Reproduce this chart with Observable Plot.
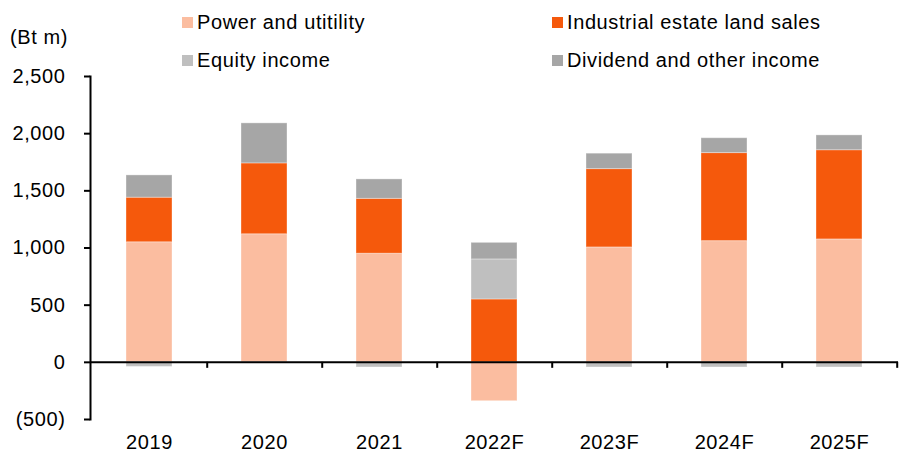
<!DOCTYPE html>
<html>
<head>
<meta charset="utf-8">
<script src="https://cdn.jsdelivr.net/npm/d3@7"></script>
<script src="https://cdn.jsdelivr.net/npm/@observablehq/plot@0.6"></script>
<style>
  html, body { margin: 0; padding: 0; background: #fff; }
  body { font-family: "Liberation Sans", Arial, sans-serif; color: #000; }
  #wrap { position: relative; width: 904px; height: 452px; }
  #unit { position: absolute; left: 10px; top: 27px; font-size: 20px; line-height: 20px; letter-spacing: 0.6px; }
  #legend { position: absolute; left: 182px; top: 12px; display: grid; letter-spacing: 0.6px;
            grid-template-columns: 370px auto; row-gap: 18px; font-size: 20px; line-height: 20px; }
  .item { display: flex; align-items: center; gap: 4px; white-space: nowrap; }
  .sw { width: 11px; height: 11px; display: inline-block; }
  #chart { position: absolute; left: 0; top: 0; }
</style>
</head>
<body>
<div id="wrap">
  <div id="chart"></div>
  <div id="unit">(Bt m)</div>
  <div id="legend"></div>
</div>
<script>
const years = ["2019", "2020", "2021", "2022F", "2023F", "2024F", "2025F"];
const seriesNames = ["Power and utitility", "Industrial estate land sales", "Equity income", "Dividend and other income"];
const seriesColors = ["#FBBDA0", "#F5590C", "#BFBFBF", "#A6A6A6"];
const power      = [1050, 1120, 950, -340, 1005, 1060, 1075];
const industrial = [390, 620, 480, 550, 685, 770, 780];
const equity     = [-40, -10, -45, 350, -45, -45, -45];
const dividend   = [195, 350, 170, 145, 135, 130, 130];
const yTicks = [-500, 0, 500, 1000, 1500, 2000, 2500];

const seriesValues = [power, industrial, equity, dividend];
const data = [];
seriesNames.forEach((s, si) => {
  years.forEach((y, yi) => data.push({year: y, series: s, value: seriesValues[si][yi]}));
});

const fmt = d3.format(",");
const tickFmt = d => d < 0 ? `(${fmt(-d)})` : fmt(d);

const W = 904, ML = 90, MR = 6;
const step = (W - ML - MR) / years.length;

const chart = Plot.plot({
  width: W,
  height: 452,
  marginLeft: ML,
  marginRight: MR,
  marginTop: 76,
  marginBottom: 33,
  style: {fontFamily: "'Liberation Sans', Arial, sans-serif", fontSize: "20px", color: "#000", background: "transparent", letterSpacing: "0.6px"},
  x: {domain: years, paddingInner: 0.6, paddingOuter: 0.3, label: null},
  y: {domain: [-500, 2500], label: null},
  color: {domain: seriesNames, range: seriesColors},
  marks: [
    Plot.barY(data, Plot.stackY({x: "year", y: "value", fill: "series", stroke: "#fff", strokeOpacity: 0.35, strokeWidth: 1})),
    Plot.ruleY([0], {stroke: "#000", strokeWidth: 2}),
    Plot.ruleX(years, {x: d => d, dx: step / 2, y1: 0, y2: 0, insetBottom: -6, stroke: "#000", strokeWidth: 2}),
    Plot.frame({anchor: "left", stroke: "#000", strokeWidth: 2}),
    Plot.axisY({ticks: yTicks, tickFormat: tickFmt, tickSize: 6, tickPadding: 19, strokeWidth: 2, fontSize: 20}),
    Plot.axisX({tickSize: 0, tickPadding: 15, fontSize: 20})
  ]
});
document.getElementById("chart").appendChild(chart);

const legend = document.getElementById("legend");
seriesNames.forEach((s, i) => {
  const item = document.createElement("div");
  item.className = "item";
  const sw = document.createElement("span");
  sw.className = "sw";
  sw.style.background = seriesColors[i];
  const t = document.createElement("span");
  t.textContent = s;
  item.appendChild(sw);
  item.appendChild(t);
  legend.appendChild(item);
});
</script>
</body>
</html>
